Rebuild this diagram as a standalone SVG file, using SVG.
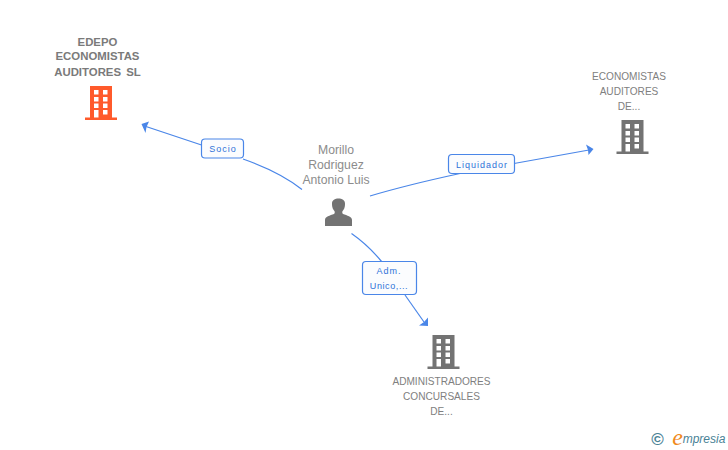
<svg xmlns="http://www.w3.org/2000/svg" width="728" height="450" viewBox="0 0 728 450">
<style>
text{font-family:"Liberation Sans",Arial,sans-serif;text-anchor:middle}
.n{font-size:10.100px;fill:#808080}
.b{font-size:11.400px;fill:#7a7a7a;font-weight:bold}
.p{font-size:12.200px;fill:#8c8c8c}
.l{font-size:9px;fill:#2f72d8;letter-spacing:1px}
.t{letter-spacing:.6px}
.c{fill:none;stroke:#4a86e8;stroke-width:1.200}
.a{fill:#4a86e8}
.box{fill:#fbfcfe;stroke:#4a86e8;stroke-width:1.200}
</style>
<defs>
<path id="bld" fill-rule="evenodd" d="M5 0H27V31.500H32V34H0V31.500H5ZM9 4V8.500H13.500V4ZM18 4V8.500H22.500V4ZM9 11V15.500H13.500V11ZM18 11V15.500H22.500V11ZM9 17.500V22H13.500V17.500ZM18 17.500V22H22.500V17.500ZM9 24V31.500H13.500V24ZM18 24V28.500H22.500V24Z"/>
</defs>
<g id="connectors">
<path class="c" d="M302 189.500Q280 172 243 159"/>
<path class="c" d="M203 145.500L146 126.500"/>
<path class="a" d="M141.500 124L149 121.500L146.500 127L145.500 133Z"/>
<path class="c" d="M370 196C400 187 430 180 460 173.500"/>
<path class="c" d="M514 163.500L589 150"/>
<path class="a" d="M593.500 149L586 144.500L588 150L588.500 155Z"/>
<path class="c" d="M351.500 233.500Q368 245 382 262"/>
<path class="c" d="M405 295L424 322"/>
<path class="a" d="M428 326L419 325.500L424 322L428 317.500Z"/>
</g>
<g id="edge-socio">
<rect class="box" x="201.500" y="139" width="42" height="19" rx="3.500"/>
<text class="l" x="223" y="152">Socio</text>
</g>
<g id="edge-liquidador">
<rect class="box" x="448.500" y="154.500" width="66" height="19" rx="3.500"/>
<text class="l" x="482" y="168">Liquidador</text>
</g>
<g id="edge-adm">
<rect class="box" x="362.500" y="261.500" width="54" height="33" rx="3.500"/>
<text class="l" x="389" y="274">Adm.</text>
<text class="l t" x="389" y="289">Unico,...</text>
</g>
<g id="node-edepo">
<text class="b" x="97.500" y="46">EDEPO</text>
<text class="b" x="97.500" y="60">ECONOMISTAS</text>
<text class="b" x="97.500" y="76" word-spacing="2">AUDITORES SL</text>
<use href="#bld" x="85" y="86" fill="#ff5a2b"/>
</g>
<g id="node-morillo">
<text class="p" x="336" y="154">Morillo</text>
<text class="p" x="336" y="169">Rodriguez</text>
<text class="p" x="336" y="184">Antonio Luis</text>
<path fill="#737373" d="M325 226V220C325 216.500 330 215.500 334 214C335 213 335 211.500 334 210.500C332 208 332 205.500 332 203.500C332 200 335 198.500 338.500 198.500C342 198.500 345 200 345 203.500C345 205.500 345 208 343 210.500C342 211.500 342 213 343 214C347 215.500 352 216.500 352 220V226Z"/>
</g>
<g id="node-economistas">
<text class="n" x="629" y="80">ECONOMISTAS</text>
<text class="n" x="629" y="95">AUDITORES</text>
<text class="n" x="629" y="110">DE...</text>
<use href="#bld" x="616.500" y="120" fill="#737373"/>
</g>
<g id="node-admin">
<text class="n" x="441.500" y="385">ADMINISTRADORES</text>
<text class="n" x="441.500" y="400">CONCURSALES</text>
<text class="n" x="441.500" y="415">DE...</text>
<use href="#bld" x="427.500" y="335" fill="#737373"/>
</g>
<g id="logo">
<text x="657.500" y="444.500" style="font-size:17px;fill:#4a8296;font-weight:bold">©</text>
<text x="677.500" y="444.500" style="font-size:24px;fill:#f08a1d;font-family:'Liberation Serif',serif;font-style:italic">e</text>
<text x="704" y="443" style="font-size:12px;fill:#4a8296;font-style:italic">mpresia</text>
</g>
</svg>
